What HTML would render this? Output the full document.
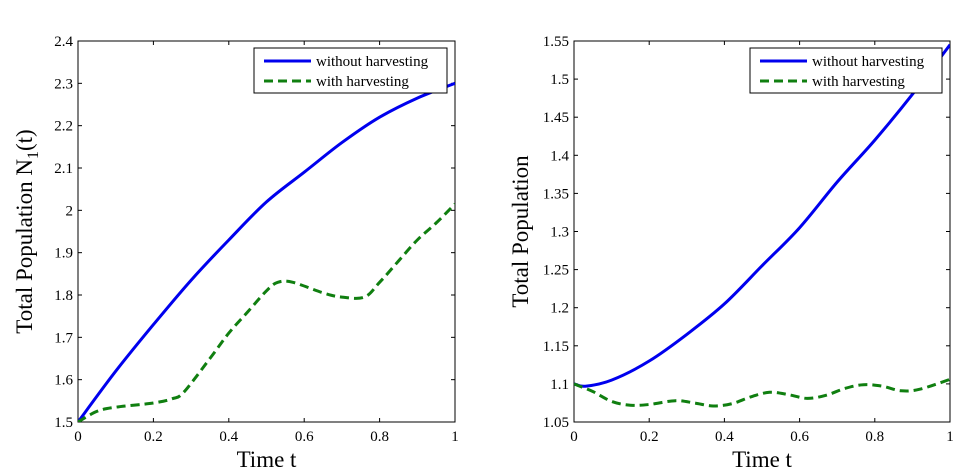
<!DOCTYPE html>
<html><head><meta charset="utf-8"><style>
html,body{margin:0;padding:0;background:#fff;}
svg{display:block;font-family:"Liberation Serif",serif;}
</style></head><body>
<svg id="c" width="963" height="475" xmlns="http://www.w3.org/2000/svg"></svg>
<script>
const leftX = [0,0.1,0.2,0.3,0.4,0.5,0.6,0.7,0.8,0.9,1];
const leftWithout = [1.5,1.62,1.73,1.835,1.93,2.02,2.09,2.16,2.22,2.265,2.3];
const leftWithX = [0,0.05,0.1,0.2,0.25,0.28,0.35,0.4,0.45,0.5,0.53,0.57,0.65,0.7,0.76,0.8,0.85,0.9,0.95,1];
const leftWith = [1.5,1.525,1.535,1.545,1.555,1.57,1.65,1.71,1.76,1.81,1.83,1.83,1.805,1.795,1.795,1.83,1.88,1.93,1.97,2.015];
const rightX = [0,0.03,0.1,0.2,0.3,0.4,0.5,0.6,0.7,0.8,0.9,1];
const rightWithout = [1.1,1.097,1.105,1.13,1.165,1.205,1.255,1.305,1.365,1.42,1.48,1.545];
const rightWithX = [0,0.05,0.1,0.15,0.2,0.27,0.32,0.37,0.42,0.47,0.52,0.57,0.62,0.67,0.72,0.77,0.82,0.87,0.92,1];
const rightWith = [1.1,1.09,1.077,1.072,1.073,1.078,1.075,1.071,1.074,1.083,1.089,1.086,1.081,1.085,1.094,1.099,1.097,1.091,1.093,1.106];
const xTicks = [0,0.2,0.4,0.6,0.8,1];
const xTickLabels = ["0","0.2","0.4","0.6","0.8","1"];
const leftYTicks = [1.5,1.6,1.7,1.8,1.9,2,2.1,2.2,2.3,2.4];
const leftYLabels = ["1.5","1.6","1.7","1.8","1.9","2","2.1","2.2","2.3","2.4"];
const rightYTicks = [1.05,1.1,1.15,1.2,1.25,1.3,1.35,1.4,1.45,1.5,1.55];
const rightYLabels = ["1.05","1.1","1.15","1.2","1.25","1.3","1.35","1.4","1.45","1.5","1.55"];

const NS="http://www.w3.org/2000/svg";
const svg=document.getElementById('c');
function mk(tag,attrs,parent){const e=document.createElementNS(NS,tag);for(const k in attrs)e.setAttribute(k,attrs[k]);(parent||svg).appendChild(e);return e;}
function smooth(P){
  let d='M'+P[0][0].toFixed(1)+','+P[0][1].toFixed(1);
  for(let i=0;i<P.length-1;i++){
    const p0=P[i-1]||P[i],p1=P[i],p2=P[i+1],p3=P[i+2]||p2;
    const c1=[p1[0]+(p2[0]-p0[0])/6,p1[1]+(p2[1]-p0[1])/6];
    const c2=[p2[0]-(p3[0]-p1[0])/6,p2[1]-(p3[1]-p1[1])/6];
    d+=' C'+c1.map(v=>v.toFixed(1)).join(',')+' '+c2.map(v=>v.toFixed(1)).join(',')+' '+p2[0].toFixed(1)+','+p2[1].toFixed(1);
  }
  return d;
}

function panel(name,x0,x1,y0,y1,ymin,ymax,yt,ytl,ylabel,ylx,series,leg){
  const g=mk('g',{});
  
  
  const sx=v=>x0+(x1-x0)*v;
  const sy=v=>y1-(y1-y0)*(v-ymin)/(ymax-ymin);
  const frame=mk('rect',{x:x0,y:y0,width:x1-x0,height:y1-y0,fill:'#fff',stroke:'#000','stroke-width':1},g);
  
  
  xTicks.forEach((t,i)=>{
    const X=sx(t);
    mk('line',{x1:X,x2:X,y1:y1,y2:y1-4,stroke:'#000'},g);
    mk('line',{x1:X,x2:X,y1:y0,y2:y0+4,stroke:'#000'},g);
    const tx=mk('text',{x:X,y:y1+19,'font-size':15,'text-anchor':'middle'},g);
    tx.textContent=xTickLabels[i];
    
    
  });
  yt.forEach((t,i)=>{
    const Y=sy(t);
    mk('line',{x1:x0,x2:x0+4,y1:Y,y2:Y,stroke:'#000'},g);
    mk('line',{x1:x1,x2:x1-4,y1:Y,y2:Y,stroke:'#000'},g);
    const tx=mk('text',{x:x0-5,y:Y+5,'font-size':15,'text-anchor':'end'},g);
    tx.textContent=ytl[i];
    
    
  });
  const xl=mk('text',{x:(x0+x1)/2,y:y1+45,'font-size':23,'text-anchor':'middle'},g);
  xl.textContent='Time t';
  
  
  const yl=mk('text',{x:0,y:0,'font-size':23,'text-anchor':'middle',transform:`translate(${ylx},${(y0+y1)/2}) rotate(-90)`},g);
  yl.innerHTML=ylabel;
  
  
  const clipId=name+'-clip';
  const cp=mk('clipPath',{id:clipId},g);
  mk('rect',{x:x0,y:y0,width:x1-x0,height:y1-y0},cp);
  series.forEach(s=>{
    const P=s.xs.map((v,i)=>[sx(v),sy(s.ys[i])]);
    const p=mk('path',{d:smooth(P),fill:'none',stroke:s.color,'stroke-width':3,'stroke-dasharray':s.dash||'none','stroke-linejoin':'round','clip-path':`url(#${clipId})`},g);
    
    
  });
  const lg=mk('g',{},g);
  
  
  mk('rect',{x:leg.x,y:48,width:leg.w,height:45,fill:'#fff',stroke:'#000'},lg);
  [['without harvesting','#0000ee','none',62],['with harvesting','#107f10','9,5',82]].forEach(e=>{
    const le=mk('g',{},lg);
    
    
    mk('line',{x1:leg.x+10,x2:leg.x+57,y1:e[3]-1,y2:e[3]-1,stroke:e[1],'stroke-width':3,'stroke-dasharray':e[2]},le);
    const t=mk('text',{x:leg.x+62,y:e[3]+4,'font-size':15},le);
    t.textContent=e[0];
  });
}
panel('left-panel',78,455,41,422,1.5,2.4,leftYTicks,leftYLabels,'Total Population N<tspan font-size="16" dy="6">1</tspan><tspan dy="-6">(t)</tspan>',32,
  [{name:'line-without-harvesting',xs:leftX,ys:leftWithout,color:'#0000ee'},
   {name:'line-with-harvesting',xs:leftWithX,ys:leftWith,color:'#107f10',dash:'9,5'}],{x:254,w:193});
panel('right-panel',574,950,41,422,1.05,1.55,rightYTicks,rightYLabels,'Total Population',528,
  [{name:'line-without-harvesting',xs:rightX,ys:rightWithout,color:'#0000ee'},
   {name:'line-with-harvesting',xs:rightWithX,ys:rightWith,color:'#107f10',dash:'9,5'}],{x:750,w:192});
</script>
</body></html>
